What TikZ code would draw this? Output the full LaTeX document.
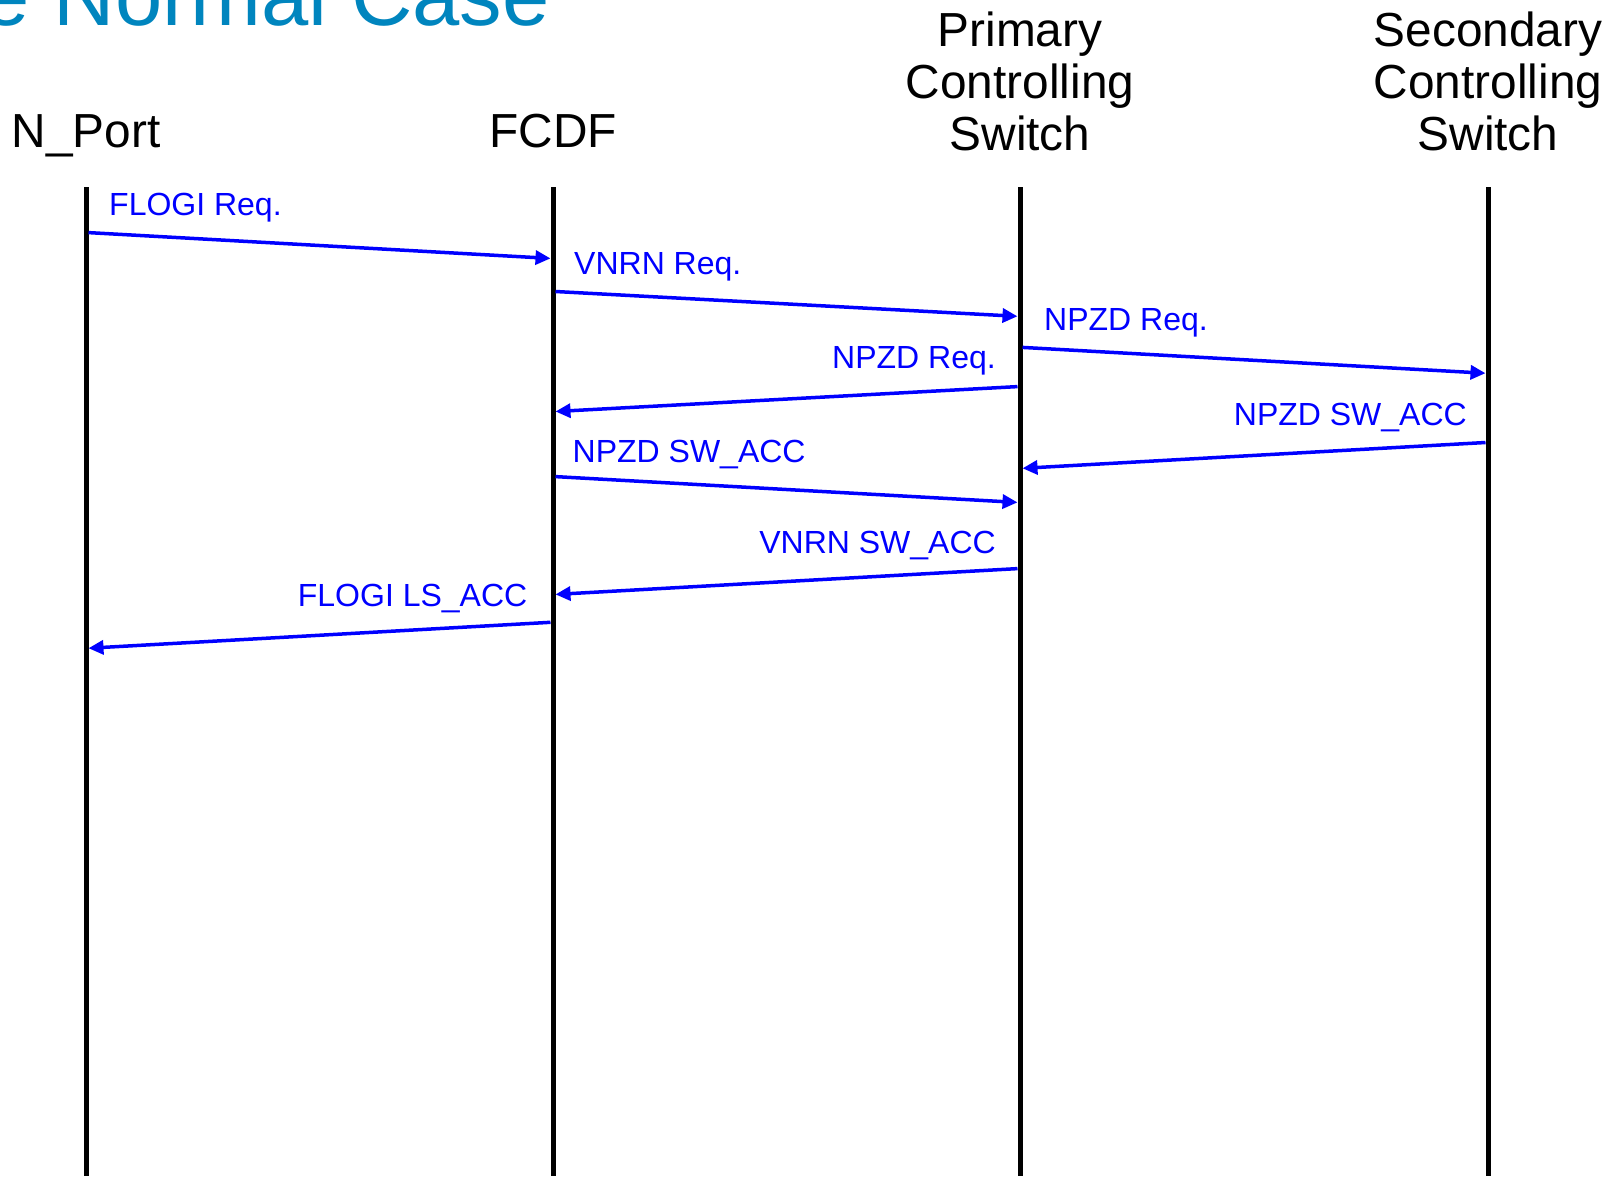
\documentclass[tikz,border=0pt]{standalone}
\usepackage{fontspec}
\setmainfont{Liberation Sans}
\usetikzlibrary{arrows.meta}
\definecolor{titleblue}{RGB}{0,133,190}
\definecolor{msgblue}{RGB}{0,0,255}
\begin{document}
\begin{tikzpicture}[x=1pt,y=-1pt,
  lifeline/.style={line width=5pt},
  msg/.style={draw=msgblue, line width=3.5pt, -{Triangle[length=15pt,width=14pt]}},
  lbl/.style={text=msgblue, inner sep=0pt, font=\fontsize{32}{36}\selectfont},
  hdr/.style={inner sep=0pt, anchor=base, font=\fontsize{47.8}{52}\selectfont},
]
\useasboundingbox (0,0) rectangle (1621,1176);
% title (cut at the top left)
\node[anchor=base east, inner sep=0pt, text=titleblue, font=\fontsize{85}{90}\selectfont] (title) at (550,25) {e Normal Case};
% headers
\node[hdr] (hnp) at (86,147) {N\_Port};
\node[hdr] (hfc) at (553,147) {FCDF};
\node[hdr] (hpr) at (1020,150) {\begin{tabular}[b]{@{}c@{}}Primary\\Controlling\\Switch\end{tabular}};
\node[hdr] (hsc) at (1488,150) {\begin{tabular}[b]{@{}c@{}}Secondary\\Controlling\\Switch\end{tabular}};
% lifelines
\coordinate (npT) at (86,187);   \coordinate (npB) at (86,1176);
\coordinate (fcT) at (553,187);  \coordinate (fcB) at (553,1176);
\coordinate (prT) at (1020,187); \coordinate (prB) at (1020,1176);
\coordinate (scT) at (1488,187); \coordinate (scB) at (1488,1176);
\draw[lifeline] (npT) -- (npB);
\draw[lifeline] (fcT) -- (fcB);
\draw[lifeline] (prT) -- (prB);
\draw[lifeline] (scT) -- (scB);
% message end points
\coordinate (m1s) at (88.5,232.6);   \coordinate (m1e) at (550.5,258.4);
\coordinate (m2s) at (555.5,291.5);  \coordinate (m2e) at (1017.5,316.3);
\coordinate (m3s) at (1022.5,347.4); \coordinate (m3e) at (1485.5,373.2);
\coordinate (m4s) at (1017.5,386.6); \coordinate (m4e) at (555.5,411.5);
\coordinate (m5s) at (1485.5,442.5); \coordinate (m5e) at (1022.5,468.3);
\coordinate (m6s) at (555.5,476.6);  \coordinate (m6e) at (1017.5,502.4);
\coordinate (m7s) at (1017.5,568.6); \coordinate (m7e) at (555.5,594.4);
\coordinate (m8s) at (550.5,622.3);  \coordinate (m8e) at (88.5,648.2);
\draw[msg] (m1s) -- (m1e);
\draw[msg] (m2s) -- (m2e);
\draw[msg] (m3s) -- (m3e);
\draw[msg] (m4s) -- (m4e);
\draw[msg] (m5s) -- (m5e);
\draw[msg] (m6s) -- (m6e);
\draw[msg] (m7s) -- (m7e);
\draw[msg] (m8s) -- (m8e);
% labels
\node[lbl, anchor=base west] (l1) at (109,215) {FLOGI Req.};
\node[lbl, anchor=base west] (l2) at (574,274) {VNRN Req.};
\node[lbl, anchor=base west] (l3) at (1044,330.5) {NPZD Req.};
\node[lbl, anchor=base east] (l4) at (996,368) {NPZD Req.};
\node[lbl, anchor=base east] (l5) at (1467,425.5) {NPZD SW\_ACC};
\node[lbl, anchor=base west] (l6) at (572.5,462) {NPZD SW\_ACC};
\node[lbl, anchor=base east] (l7) at (996,553) {VNRN SW\_ACC};
\node[lbl, anchor=base east] (l8) at (527.5,606) {FLOGI LS\_ACC};
\end{tikzpicture}
\end{document}
